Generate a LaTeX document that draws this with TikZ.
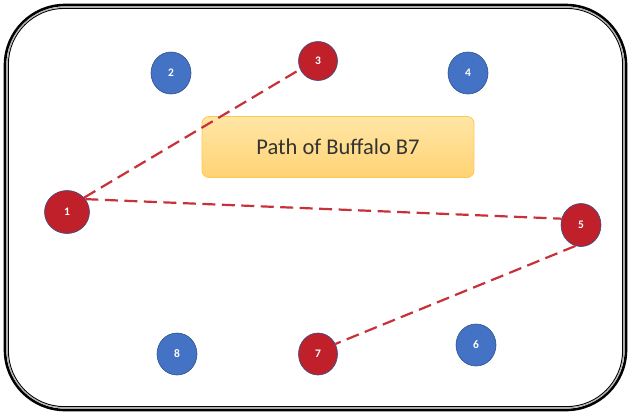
\documentclass[tikz,border=0pt]{standalone}
\usepackage{fontspec}
\setmainfont{Carlito}
\usepackage{tikz}
\usetikzlibrary{shapes,positioning,calc}

\definecolor{stopblue}{HTML}{4472C4}
\definecolor{stopred}{HTML}{C0202A}
\definecolor{pathred}{HTML}{C8303A}
\definecolor{boxtop}{HTML}{FFE6A6}
\definecolor{boxbot}{HTML}{FFD374}
\definecolor{boxline}{HTML}{FFC94A}

\begin{document}
\begin{tikzpicture}[
    x=1pt, y=-1pt,
    stop/.style={ellipse, draw=stopblue!70!black, line width=0.6pt, fill=stopblue, text=white, font=\fontsize{11.5}{13}\selectfont\bfseries, minimum width=40pt, minimum height=42pt, inner sep=0pt},
    visited/.style={stop, fill=stopred, minimum width=39pt, minimum height=39pt},
    trail/.style={pathred, line width=2.2pt, dash pattern=on 13pt off 6.5pt},
    title/.style={rectangle, rounded corners=7pt, draw=boxline, line width=0.8pt, top color=boxtop, bottom color=boxbot, minimum width=272pt, minimum height=61pt, font=\fontsize{22.5}{26}\selectfont, text=black!80}
]
    % Canvas
    \useasboundingbox (0,0) rectangle (631,416);
    \fill[white] (0,0) rectangle (631,416);

    % Frame
    \draw[line width=2.6pt, rounded corners=60pt] (5,5) rectangle (626,410);
    \draw[gray!60, line width=1pt, rounded corners=57pt] (7.2,7.2) rectangle (623.8,407.8);
    \draw[line width=0.9pt, rounded corners=56pt] (8.4,8.4) rectangle (622.6,406.6);

    % Title box
    \node[title] (label) at (338,147) {Path of Buffalo B7};

    % Stops
    \node[visited, minimum width=45pt, minimum height=43pt] (n1) at (67,212) {1};
    \node[stop] (n2) at (171,73) {2};
    \node[visited] (n3) at (318,61) {3};
    \node[stop] (n4) at (468,73) {4};
    \node[visited, minimum width=40pt, minimum height=43pt] (n5) at (581,225) {5};
    \node[stop] (n6) at (476,345) {6};
    \node[visited, minimum height=42pt] (n7) at (318,354) {7};
    \node[stop] (n8) at (177,354) {8};

    % Path of the buffalo
    \draw[trail] (n1.40) -- (n3.205);
    \draw[trail] (n1.35) -- (n5.162);
    \draw[trail] (n5.255) -- (n7.30);

\end{tikzpicture}
\end{document}
